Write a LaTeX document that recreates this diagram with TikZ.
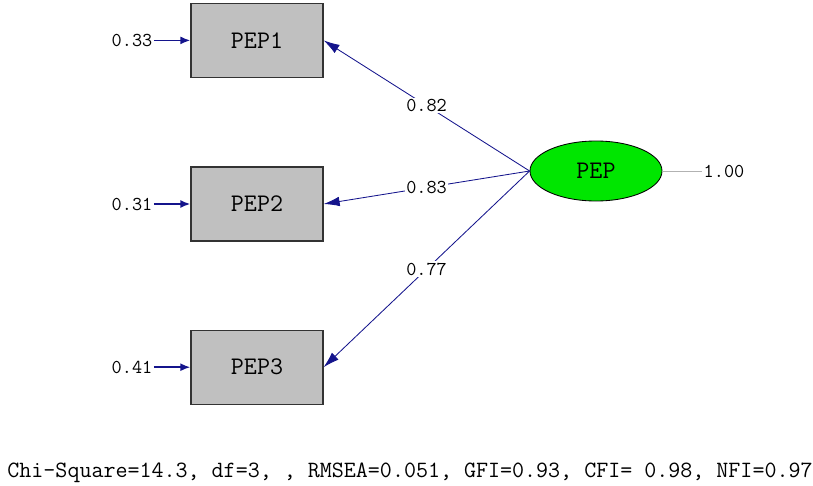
\documentclass[tikz,border=0pt]{standalone}
\usepackage{fontspec}
\usetikzlibrary{arrows.meta,positioning,shapes.geometric}
\definecolor{lineblue}{RGB}{20,20,140}
\definecolor{boxgray}{RGB}{192,192,192}
\definecolor{latgreen}{RGB}{0,230,0}

\begin{document}
\begin{tikzpicture}[ node distance =4cm , on grid , font=\ttfamily ,
  obsbox/.style={draw=black!80, line width=0.9pt, fill=boxgray, minimum width=3.3cm, minimum height=1.85cm, font=\ttfamily\fontsize{18}{18}\selectfont},
  latent/.style={ellipse, draw=black, line width=0.6pt, fill=latgreen, minimum width=3.3cm, minimum height=1.5cm, font=\ttfamily\fontsize{18}{18}\selectfont},
  errval/.style={inner sep=1pt, font=\ttfamily\fontsize{14}{14}\selectfont},
  loadval/.style={fill=white, inner sep=1pt, font=\ttfamily\fontsize{14}{14}\selectfont},
  load/.style={draw=lineblue, line width=0.6pt, -{Latex[length=4mm,width=2.4mm]}},
  errarrow/.style={draw=lineblue, line width=1.2pt, -{Latex[length=2.5mm,width=2mm]}} ]
\useasboundingbox (0,0) rectangle (20.325,-12.125);
\node [ obsbox ] (PEP2) at (6.425,-5.1) {PEP2};
\node [ obsbox ] (PEP1) [ above = 4.09cm of PEP2 ] {PEP1};
\node [ obsbox ] (PEP3) [ below = 4.08cm of PEP2 ] {PEP3};
\node [ latent ] (PEP) [ above right = 0.825cm and 8.475cm of PEP2 ] {PEP};
\node [ errval ] (e1) [ left = 3.125cm of PEP1 ] {0.33};
\node [ errval ] (e2) [ left = 3.125cm of PEP2 ] {0.31};
\node [ errval ] (e3) [ left = 3.125cm of PEP3 ] {0.41};
\node [ errval ] (v) [ right = 3.2cm of PEP ] {1.00};
\node [ font=\ttfamily\fontsize{16.6}{16.6}\selectfont ] (fit) at (10.25,-11.825)
  {Chi-Square=14.3, df=3, , RMSEA=0.051, GFI=0.93, CFI= 0.98, NFI=0.97};
\path
(e1) edge [ errarrow ] (PEP1)
(e2) edge [ errarrow ] (PEP2)
(e3) edge [ errarrow ] (PEP3);
\draw [ gray!60 , line width=0.7pt ] (PEP.east) -- (v.west);
\path
(PEP.west) edge [ load ] node [ loadval ] {0.82} (PEP1.east)
edge [ load ] node [ loadval ] {0.83} (PEP2.east)
edge [ load ] node [ loadval ] {0.77} (PEP3.east);
\end{tikzpicture}
\end{document}
